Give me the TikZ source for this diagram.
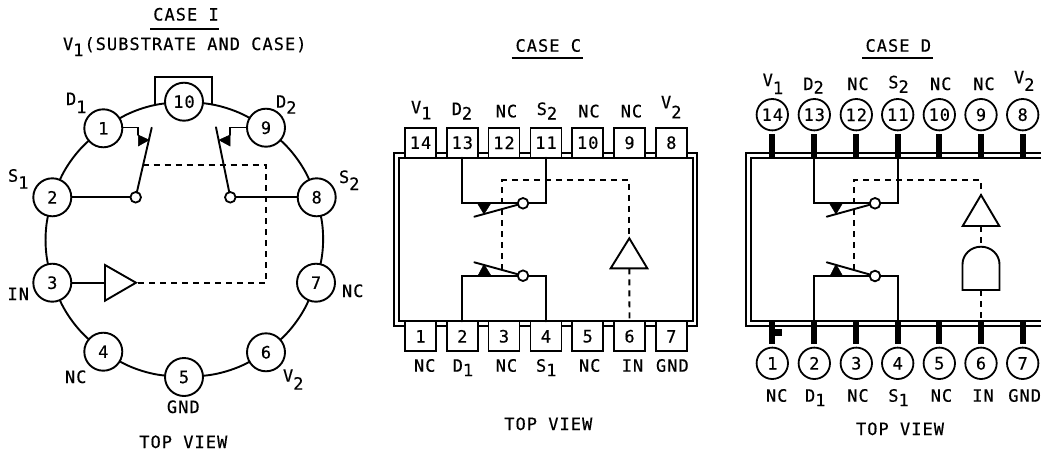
\documentclass[tikz,border=0pt]{standalone}
\usepackage{fontspec}
\newfontfamily\plotfont[LetterSpace=6,FakeBold=0.4]{DejaVu Sans Mono}
\newcommand\subl[3][7]{#2\raisebox{-#1pt}{#3}}
\tikzset{
  wire/.style={line width=1.9pt,line cap=round,line join=miter},
  ctl/.style={line width=1.9pt,dash pattern=on 6pt off 5pt},
  txt/.style={font=\plotfont\fontsize{17}{17}\selectfont,inner sep=0pt,outer sep=0pt},
  lbl/.style={txt,anchor=base west},
  ctr/.style={txt,anchor=base},
  pincirc/.style={txt,circle,draw,line width=1.9pt,fill=white,minimum size=38pt},
  pinsmall/.style={txt,circle,draw,line width=1.8pt,fill=white,minimum size=31.4pt},
  pinbox/.style={txt,rectangle,draw,line width=1.9pt,fill=white,minimum width=31pt,minimum height=30pt},
  bubble/.style={circle,draw,line width=1.8pt,fill=white,minimum size=10.6pt,inner sep=0pt,outer sep=0pt},
  pinbar/.style={rectangle,fill=black,minimum width=6pt,minimum height=23.4pt,inner sep=0pt,outer sep=0pt},
  head/.style={fill=black,draw=black,line width=.5pt},
  amp/.style={line width=1.9pt,line join=miter,fill=white},
  rulel/.style={line width=1.9pt},
}
\begin{document}
\begin{tikzpicture}[x=1pt,y=-1pt]
\useasboundingbox (0,0) rectangle (1041,455);
\fill[white] (0,0) rectangle (1041,455);

%% ---------- CASE I ----------
\node[ctr] (ititle) at (186,20.5) {CASE I};
\coordinate (iulA) at (150,29); \coordinate (iulB) at (219,29);
\draw[rulel] (iulA) -- (iulB);
\node[lbl] (isub) at (63,50) {\subl[6]{V}{1}\kern1pt(SUBSTRATE AND CASE)};

\foreach \n/\x/\y in {10/184/101.7,1/103.3/128.3,9/266/127.7,2/52.3/197.3,8/316.7/197.3,
                      3/52.3/282.7,7/316/282.7,4/103.3/351.7,6/266/352.3,5/184/377}
  \node[pincirc] (i\n) at (\x,\y) {\n};

\foreach \a/\b in {10/9,9/8,8/7,7/6,6/5,5/4,4/3,3/2,2/1,1/10}
  \draw[wire] (i\a) to[bend left=13,looseness=.78] (i\b);

\coordinate (ibrA) at (155.3,104.5); \coordinate (ibrB) at (155.3,77);
\coordinate (ibrC) at (212.3,77); \coordinate (ibrD) at (212.3,104.5);
\draw[wire] (ibrA) -- (ibrB) -- (ibrC) -- (ibrD);

\node[bubble] (isw1) at (135.7,197.3) {};
\node[bubble] (isw2) at (230.3,197.3) {};
\coordinate (ibl1) at (151.7,127.7); \coordinate (ibl2) at (216,127.3);
\draw[wire] (isw1) -- (ibl1);
\draw[wire] (isw2) -- (ibl2);
\draw[wire] (i2.east |- isw1) -- (isw1);
\draw[wire] (i8.west |- isw2) -- (isw2);
\coordinate (iw1) at (138.3,127.5); \coordinate (iw1e) at (138.3,135);
\coordinate (iw2) at (230,127.5); \coordinate (iw2e) at (230,135);
\draw[wire] (i1.east |- iw1) -- (iw1) -- (iw1e);
\draw[wire] (i9.west |- iw2) -- (iw2) -- (iw2e);
\draw[head] (138.3,135) -- (138.3,146) -- (149,140) -- cycle;
\draw[head] (230,135) -- (230,146) -- (219,140) -- cycle;

\coordinate (iampT) at (136,282.7); \coordinate (iampB) at (105,282.7);
\draw[wire] (i3.east) -- (iampB);
\draw[amp] (105,265) -- (105,300.7) -- (iampT) -- cycle;
\coordinate (idash0) at (142.7,165.3); \coordinate (idash1) at (266,165.3); \coordinate (idash2) at (266,282.7);
\draw[ctl] (idash0) -- (idash1) -- (idash2) -- (iampT);

\node[lbl] (iD1) at (66,105) {\subl[8]{D}{1}};
\node[lbl] (iD2) at (276,107.7) {\subl[6]{D}{2}};
\node[lbl] (iS1) at (8,181.7) {\subl[7]{S}{1}};
\node[lbl] (iS2) at (339,183) {\subl[7]{S}{2}};
\node[lbl] (iIN) at (7.5,300) {IN};
\node[lbl] (iNC7) at (342,297) {NC};
\node[lbl] (iNC4) at (65,383) {NC};
\node[lbl] (iV2) at (283,381.7) {\subl[8]{V}{2}};
\node[ctr] (iGND) at (183.3,413) {GND};
\node[ctr] (itop) at (183.3,448) {TOP VIEW};

%% ---------- CASE C ----------
\node[ctr] (ctitle) at (548.3,51.7) {CASE C};
\coordinate (culA) at (511.7,58.3); \coordinate (culB) at (582.7,58.3);
\draw[rulel] (culA) -- (culB);
\draw[wire] (394,152.7) rectangle (697.3,326);
\draw[wire] (399,157.7) rectangle (693.3,320.7);
\foreach \n/\x in {14/420.5,13/462.3,12/504,11/546,10/587.7,9/629.5,8/671.3}
  \node[pinbox] (c\n) at (\x,142.7) {\n};
\foreach \n/\x in {1/420.5,2/462.3,3/504,4/546,5/587.7,6/629.5,7/671.3}
  \node[pinbox] (c\n) at (\x,336.3) {\n};

\node[bubble] (csw1) at (523,203.3) {};
\node[bubble] (csw2) at (523,275.7) {};
\draw[wire] (c13.south) |- (csw1.west);
\draw[wire] (csw1.east) -| (c11.south);
\draw[wire] (c2.north) |- (csw2.west);
\draw[wire] (csw2.east) -| (c4.north);
\coordinate (cbl1) at (474.3,216.7); \coordinate (cbl2) at (474.3,262.3);
\draw[wire] (csw1) -- (cbl1);
\draw[wire] (csw2) -- (cbl2);
\draw[head] (477.3,203) -- (491,203) -- (484,214) -- cycle;
\draw[head] (478,275.7) -- (491,275.7) -- (484,264.3) -- cycle;

\coordinate (cd0) at (502.3,269.5); \coordinate (cd1) at (502.3,180); \coordinate (cd2) at (629.3,180);
\coordinate (campT) at (629.3,238.3); \coordinate (campB) at (629.3,268.3);
\draw[ctl] (cd0) -- (cd1) -- (cd2) -- (campT);
\draw[amp] (campT) -- (647.3,268.3) -- (610.7,268.3) -- cycle;
\draw[ctl] (campB) -- (c6.north);

\node[lbl] (ctV1) at (411,113.3) {\subl[6]{V}{1}};
\node[lbl] (ctD2) at (451.7,115) {\subl[4.5]{D}{2}};
\node[lbl] (ctNC12) at (495.7,117.3) {NC};
\node[lbl] (ctS2) at (536.7,115) {\subl[4.5]{S}{2}};
\node[lbl] (ctNC10) at (578.3,117.3) {NC};
\node[lbl] (ctNC9) at (620.7,117.3) {NC};
\node[lbl] (ctV2) at (661,108.3) {\subl[10]{V}{2}};
\node[lbl] (cbNC1) at (414,371.7) {NC};
\node[lbl] (cbD1) at (452.7,371.7) {\subl[4.5]{D}{1}};
\node[lbl] (cbNC3) at (495.7,371.7) {NC};
\node[lbl] (cbS1) at (536,371.7) {\subl[4.5]{S}{1}};
\node[lbl] (cbNC5) at (579,371.7) {NC};
\node[lbl] (cbIN) at (621.7,371.7) {IN};
\node[lbl] (cbGND) at (656,371.7) {GND};
\node[ctr] (ctop) at (548.3,430) {TOP VIEW};

%% ---------- CASE D ----------
\node[ctr] (dtitle) at (898.3,51.7) {CASE D};
\coordinate (dulA) at (862.3,58.3); \coordinate (dulB) at (933.3,58.3);
\draw[rulel] (dulA) -- (dulB);
\draw[wire,line cap=butt] (1042,152.7) -- (746,152.7) -- (746,326) -- (1042,326);
\draw[wire,line cap=butt] (1042,158) -- (750.7,158) -- (750.7,320.7) -- (1042,320.7);
\foreach \n/\x in {14/772.3,13/814.3,12/856.3,11/897.7,10/939.3,9/981,8/1022.7}{
  \node[pinsmall] (d\n) at (\x,114.7) {\n};
  \node[pinbar] (db\n) at (\x,146) {};
}
\foreach \n/\x in {1/772.3,2/814.3,3/856.3,4/897.7,5/939.3,6/981,7/1022.7}{
  \node[pinsmall] (d\n) at (\x,363.3) {\n};
  \node[pinbar] (db\n) at (\x,332.5) {};
}
\fill (772.7,329.3) rectangle (782.3,336);

\node[bubble] (dsw1) at (875,203.3) {};
\node[bubble] (dsw2) at (875,276) {};
\draw[wire] (db13.south) |- (dsw1.west);
\draw[wire] (dsw1.east) -| (db11.south);
\draw[wire] (db2.north) |- (dsw2.west);
\draw[wire] (dsw2.east) -| (db4.north);
\coordinate (dbl1) at (826.7,216.7); \coordinate (dbl2) at (826.7,262.3);
\draw[wire] (dsw1) -- (dbl1);
\draw[wire] (dsw2) -- (dbl2);
\draw[head] (829.3,203) -- (842.7,203) -- (836,214) -- cycle;
\draw[head] (830,276) -- (842.7,276) -- (836,264.3) -- cycle;

\coordinate (dd0) at (854,270); \coordinate (dd1) at (854,180); \coordinate (dd2) at (981,180);
\coordinate (dampT) at (981,195); \coordinate (dampB) at (981,226);
\coordinate (dgateT) at (981,246.7); \coordinate (dgateB) at (981,290);
\draw[ctl] (dd0) -- (dd1) -- (dd2) -- (dampT);
\draw[amp] (dampT) -- (999.3,226) -- (962.7,226) -- cycle;
\draw[ctl] (dampB) -- (dgateT);
\draw[amp] (962.5,290) -- (962.5,264.3) arc[start angle=180,end angle=0,x radius=18.5pt,y radius=17.6pt] -- (999.5,290) -- cycle;
\draw[ctl] (dgateB) -- (db6.north);

\node[lbl] (dtV1) at (762.7,86) {\subl[8]{V}{1}};
\node[lbl] (dtD2) at (803.3,90) {\subl[3.5]{D}{2}};
\node[lbl] (dtNC12) at (847.3,90) {NC};
\node[lbl] (dtS2) at (888.3,88.3) {\subl[4.5]{S}{2}};
\node[lbl] (dtNC10) at (930,90) {NC};
\node[lbl] (dtNC9) at (973.3,90) {NC};
\node[lbl] (dtV2) at (1014,83.3) {\subl[7.5]{V}{2}};
\node[lbl] (dbNC1) at (766,401.7) {NC};
\node[lbl] (dbD1) at (805,401.7) {\subl[4.5]{D}{1}};
\node[lbl] (dbNC3) at (847.3,401.7) {NC};
\node[lbl] (dbS1) at (888.3,401.7) {\subl[4.5]{S}{1}};
\node[lbl] (dbNC5) at (930.7,401.7) {NC};
\node[lbl] (dbIN) at (972.3,401.7) {IN};
\node[lbl] (dbGND) at (1008.3,401.7) {GND};
\node[ctr] (dtop) at (900,435) {TOP VIEW};
\end{tikzpicture}
\end{document}
